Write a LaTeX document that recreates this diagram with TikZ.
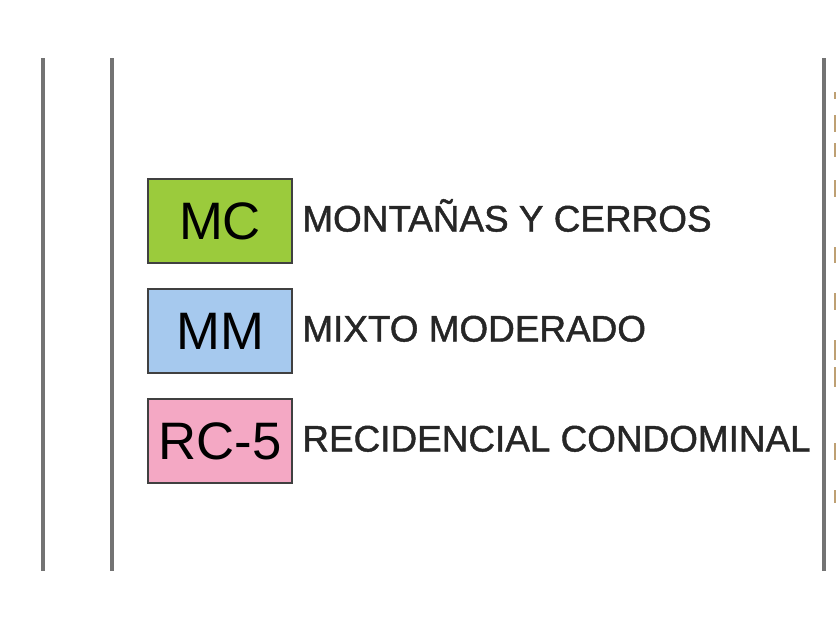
\documentclass[tikz,border=0pt]{standalone}
\usepackage{fontspec}
\setmainfont{Liberation Sans}
\newfontfamily\heavyfont{Liberation Sans}[RawFeature={embolden=1.2}]
\usetikzlibrary{positioning}
\definecolor{mcgreen}{RGB}{155,203,60}
\definecolor{mmblue}{RGB}{166,201,238}
\definecolor{rcpink}{RGB}{244,168,196}
\definecolor{rimcol}{RGB}{190,160,115}
\begin{document}
\begin{tikzpicture}[x=0.02cm,y=-0.02cm,
  codebox/.style={draw=black!75,line width=1.2pt,minimum width=2.88cm,
    minimum height=1.68cm,inner sep=0pt,font=\fontsize{30}{36}\selectfont},
  desc/.style={anchor=base west,inner sep=0pt,text=black!85,
    font=\heavyfont\fontsize{21}{25}\selectfont}]
  \useasboundingbox (0,0) rectangle (840,630);
  % frame lines
  \foreach \x [count=\i] in {43,112,824} {
    \coordinate (top\i) at (\x,58);
    \coordinate (bot\i) at (\x,571);
    \draw[black!55,line width=1.9pt] (top\i) -- (bot\i);
  }
  % cut-off letters right of the frame
  \foreach \a/\b in {92/99,115/132,143/157,180/197,247/263,293/310,340/360,367/387,443/460,490/503} {
    \draw[rimcol,line width=1pt] (835,\a) -- (835,\b);
  }
  % legend
  \foreach \c/\col/\t [count=\i] in {MC/mcgreen/MONTAÑAS Y CERROS,
      MM/mmblue/MIXTO MODERADO, RC-5/rcpink/RECIDENCIAL CONDOMINAL} {
    \node[codebox,fill=\col] (code\i) at (220,111+110*\i) {\c};
    \node[desc] (desc\i) at (302,121.5+110*\i) {\t};
  }
\end{tikzpicture}
\end{document}
